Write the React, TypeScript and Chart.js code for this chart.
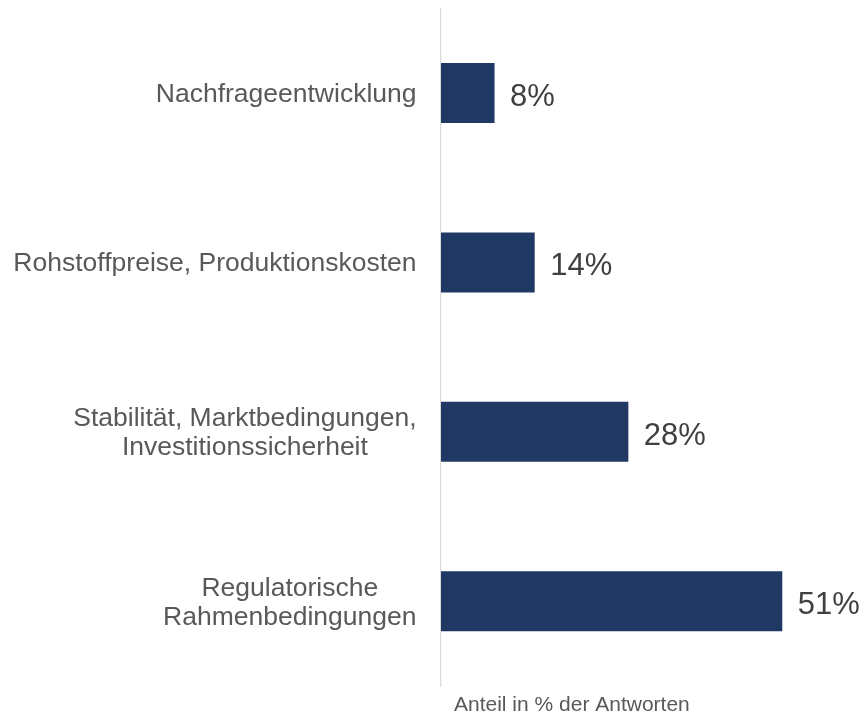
import React, { useEffect, useRef } from "react";
import { Chart, registerables } from "chart.js";

Chart.register(...registerables);

const categories: string[][] = [
  ["Nachfrageentwicklung"],
  ["Rohstoffpreise, Produktionskosten"],
  ["Stabilität, Marktbedingungen,", "Investitionssicherheit"],
  ["Regulatorische", "Rahmenbedingungen"],
];
const values: number[] = [8, 14, 28, 51];
const valueLabels: string[] = ["8%", "14%", "28%", "51%"];
const axisTitle = "Anteil in % der Antworten";

const FONT = "'Liberation Sans', Arial, sans-serif";

const textPlugin = {
  id: "customText",
  afterDraw(chart: any) {
    const ctx = chart.ctx;
    const y = chart.scales.y;
    const x = chart.scales.x;
    const area = chart.chartArea;
    ctx.save();
    // category labels
    ctx.font = `26.5px ${FONT}`;
    ctx.fillStyle = "#595959";
    ctx.textBaseline = "alphabetic";
    ctx.textAlign = "center";
    const rightEdge = area.left - 24.5;
    categories.forEach((lines, i) => {
      const cy = y.getPixelForValue(i);
      const maxW = Math.max(...lines.map((l) => ctx.measureText(l).width));
      const cx = rightEdge - maxW / 2;
      lines.forEach((l, j) => {
        const by = cy + (j - (lines.length - 1) / 2) * 29 + 9;
        ctx.fillText(l, cx, by);
      });
    });
    // value labels
    ctx.font = `31px ${FONT}`;
    ctx.fillStyle = "#404040";
    ctx.textAlign = "left";
    values.forEach((v, i) => {
      const px = x.getPixelForValue(v);
      const cy = y.getPixelForValue(i);
      ctx.fillText(valueLabels[i], px + 15.5, cy + 13);
    });
    // axis title
    ctx.font = `21px ${FONT}`;
    ctx.fillStyle = "#595959";
    ctx.fillText(axisTitle, area.left + 13, area.bottom + 25);
    ctx.restore();
  },
};

export default function App() {
  const ref = useRef<HTMLCanvasElement | null>(null);
  useEffect(() => {
    if (!ref.current) return;
    const chart = new Chart(ref.current, {
      type: "bar",
      data: {
        labels: categories.map((c) => c.join(" ")),
        datasets: [
          {
            data: values,
            backgroundColor: "#203864",
            borderWidth: 0,
            categoryPercentage: 1,
            barPercentage: 0.354,
          },
        ],
      },
      options: {
        indexAxis: "y",
        animation: false,
        responsive: true,
        maintainAspectRatio: false,
        layout: { padding: { left: 0, right: 23.5, top: 8.3, bottom: 28 } },
        plugins: {
          legend: { display: false },
          tooltip: { enabled: false },
        },
        scales: {
          x: {
            display: false,
            min: 0,
            max: 60,
          },
          y: {
            type: "category",
            ticks: { display: false },
            grid: { display: false, drawTicks: false },
            border: { display: true, color: "#d9d9d9", width: 1.2 },
            afterFit: (scale: any) => {
              scale.width = 441;
            },
          },
        },
      },
      plugins: [textPlugin],
    });
    return () => chart.destroy();
  }, []);
  return (
    <div
      style={{
        position: "fixed",
        left: 0,
        top: 0,
        width: 866,
        height: 714,
        background: "#ffffff",
      }}
    >
      <canvas ref={ref} />
    </div>
  );
}
